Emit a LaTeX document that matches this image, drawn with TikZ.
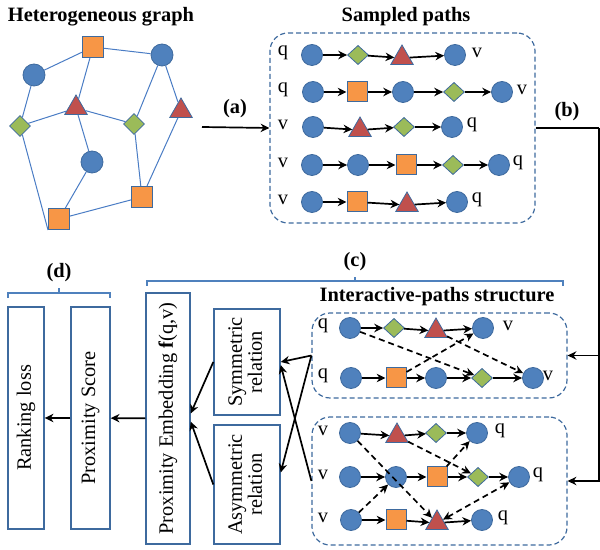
\documentclass[tikz,border=0pt]{standalone}
\usepackage{fontspec}
\setmainfont{Liberation Serif}
\usepackage{tikz}
\usetikzlibrary{shapes,arrows,positioning,calc,arrows.meta}

\definecolor{cblue}{HTML}{4F81BD}
\definecolor{cbord}{HTML}{3E6A9E}
\definecolor{corange}{HTML}{F79646}
\definecolor{cred}{HTML}{C0504D}
\definecolor{cgreen}{HTML}{9BBB59}
\definecolor{cedge}{HTML}{4A7CC4}

\tikzset{
    cir/.style={circle, fill=cblue, draw=cbord, line width=0.4pt, minimum size=10.5pt, inner sep=0pt},
    sq/.style={rectangle, fill=corange, draw=cbord, line width=0.5pt, minimum size=10pt, inner sep=0pt},
    dia/.style={diamond, fill=cgreen, draw=cbord, line width=0.4pt, minimum width=10.5pt, minimum height=9.6pt, inner sep=0pt},
    tri/.style={regular polygon, regular polygon sides=3, fill=cred, draw=cbord, line width=0.4pt, minimum size=13pt, inner sep=0pt},
    lab/.style={inner sep=0pt, font=\fontsize{10.2}{12}\selectfont},
    ttl/.style={inner sep=0pt, font=\fontsize{10.2}{12}\selectfont\bfseries},
    pa/.style={-{Stealth[length=4.4pt,width=4.2pt]}, line width=0.85pt, black},
    da/.style={-{Stealth[length=4.4pt,width=4.2pt]}, line width=0.85pt, black, dash pattern=on 3pt off 2pt},
    gedge/.style={cedge, line width=0.5pt},
    dbox/.style={rectangle, draw=cbord, dash pattern=on 2.5pt off 1.5pt, line width=0.6pt, rounded corners=9pt},
    rbox/.style={rectangle, draw=cbord, line width=0.7pt, inner sep=0pt, font=\fontsize{10.2}{12}\selectfont},
    brk/.style={cblue, line width=0.6pt}
}

\begin{document}
\begin{tikzpicture}[x=0.5pt, y=-0.5pt]
    \useasboundingbox (0,0) rectangle (600,550);

    % titles
    \node[ttl] (tg) at (101,17) {Heterogeneous graph};
    \node[ttl] (ts) at (406,17) {Sampled paths};
    \node[ttl] (ti) at (437,297) {Interactive-paths structure};

    % heterogeneous graph
    \node[sq, minimum size=10.5pt] (gsq1) at (93,47) {};
    \node[cir, minimum size=11pt] (gc1) at (34,75) {};
    \node[cir, minimum size=11pt] (gc2) at (162,55) {};
    \node[tri] (gt1) at (76,108) {};
    \node[tri] (gt2) at (181,111) {};
    \node[dia, minimum height=10.5pt] (gd1) at (20,126) {};
    \node[dia, minimum height=10.5pt] (gd2) at (134,124) {};
    \node[cir, minimum size=11pt] (gc3) at (92,162) {};
    \node[sq, minimum size=10.5pt] (gsq2) at (142,197) {};
    \node[sq, minimum size=10.5pt] (gsq3) at (59,219) {};
    \foreach \a/\b in {gsq1/gc1, gsq1/gc2, gsq1/gt1, gc1/gd1, gd1/gt1, gt1/gd2,
        gt1/gc3, gc2/gd2, gc2/gt2, gd2/gsq2, gt2/gsq2, gc3/gsq3, gsq2/gsq3}
        \draw[gedge] (\a) -- (\b);
    \draw[gedge] (gd1) -- (gsq3.south west);

    % sampled paths
    \node[dbox, minimum width=132.5pt, minimum height=95pt] (sp) at (402.5,128) {};
    \node[cir] (s11) at (312,55) {};
    \node[dia] (s12) at (358,55) {};
    \node[tri] (s13) at (402,58) {};
    \node[cir] (s14) at (455,55) {};
    \node[cir] (s21) at (313,92) {};
    \node[sq] (s22) at (357,92) {};
    \node[cir] (s23) at (403,92) {};
    \node[dia] (s24) at (454,92) {};
    \node[cir] (s25) at (502,92) {};
    \node[cir] (s31) at (313,127) {};
    \node[tri] (s32) at (360,130) {};
    \node[dia] (s33) at (404,127) {};
    \node[cir] (s34) at (452,127) {};
    \node[cir] (s41) at (312,165) {};
    \node[cir] (s42) at (358,165) {};
    \node[sq] (s43) at (406,165) {};
    \node[dia] (s44) at (453,165) {};
    \node[cir] (s45) at (499,165) {};
    \node[cir] (s51) at (312,202) {};
    \node[sq] (s52) at (357,202) {};
    \node[tri] (s53) at (407,205) {};
    \node[cir] (s54) at (457,202) {};
    \foreach \a/\b in {s11/s12, s12/s13, s13/s14, s21/s22, s22/s23, s23/s24, s24/s25,
        s31/s32, s32/s33, s33/s34, s41/s42, s42/s43, s43/s44, s44/s45,
        s51/s52, s52/s53, s53/s54}
        \draw[pa] (\a) -- (\b);
    \foreach \t/\x/\y in {q/283/53, q/283/90, v/283/125, v/283/163, v/283/200,
        v/477/53, v/522/90, q/472/125, q/518/163, q/477/200}
        \node[lab] at (\x,\y) {\t};

    % (a) and (b)
    \coordinate (astart) at (202,127);
    \draw[pa] (astart) -- (sp.west);
    \node[ttl] (la) at (235,109) {(a)};
    \coordinate (bturn) at (599,128);
    \node[ttl] (lb) at (567,112) {(b)};

    % interactive paths, upper block
    \node[dbox, minimum width=127.5pt, minimum height=42.5pt] (ip1) at (439.5,355.5) {};
    \node[cir] (a1) at (350,328) {};
    \node[dia] (a2) at (394,328) {};
    \node[tri] (a3) at (436,331) {};
    \node[cir] (a4) at (483,328) {};
    \node[cir] (b1) at (351,378) {};
    \node[sq] (b2) at (396,378) {};
    \node[cir] (b3) at (436,378) {};
    \node[dia] (b4) at (482,378) {};
    \node[cir] (b5) at (533,378) {};

    % interactive paths, lower block
    \node[dbox, minimum width=127.5pt, minimum height=64pt] (ip2) at (439.5,481) {};
    \node[cir] (c1) at (350,433) {};
    \node[tri] (c2) at (397,436) {};
    \node[dia] (c3) at (436,433) {};
    \node[cir] (c4) at (477,433) {};
    \node[cir] (d1) at (350,477) {};
    \node[cir] (d2) at (396,477) {};
    \node[sq] (d3) at (437,477) {};
    \node[dia] (d4) at (478,477) {};
    \node[cir] (d5) at (519,477) {};
    \node[cir] (e1) at (351,520) {};
    \node[sq] (e2) at (396,520) {};
    \node[tri] (e3) at (437,523) {};
    \node[cir] (e4) at (482,520) {};

    \foreach \a/\b in {a1/a2, a2/a3, a3/a4, b1/b2, b2/b3, b3/b4, b4/b5,
        c1/c2, c2/c3, c3/c4, d1/d2, d2/d3, d3/d4, d4/d5, e1/e2, e2/e3, e3/e4}
        \draw[pa] (\a) -- (\b);
    \foreach \a/\b in {a1/b4, a3/b5, b2/a4, c1/e3, c2/d4, d3/c4, e1/d2}
        \draw[da] (\a) -- (\b);
    \draw[da, {Stealth[length=4.4pt,width=4.2pt]}-{Stealth[length=4.4pt,width=4.2pt]}] (e3) -- (d5);
    \foreach \t/\x/\y in {q/323/326, v/508/326, q/323/376, v/548/376,
        v/323/431, q/500/431, v/323/475, q/538/475, v/323/518, q/503/518}
        \node[lab] at (\x,\y) {\t};

    % (b) connector
    \draw[line width=0.85pt] (sp.east) -- (bturn);
    \draw[pa] (bturn) |- (ip1.east);
    \draw[pa] (bturn) |- (ip2.east);

    % left boxes
    \node[rbox, minimum width=18pt, minimum height=111pt] (rank) at (26,418) {\rotatebox{90}{Ranking loss}};
    \node[rbox, minimum width=19.5pt, minimum height=111pt] (score) at (90.5,418) {\rotatebox{90}{Proximity Score}};
    \node[rbox, minimum width=22pt, minimum height=125.5pt] (emb) at (168,418.5) {\rotatebox{90}{Proximity Embedding \textbf{f}(q,v)}};
    \node[rbox, minimum width=33pt, minimum height=53pt] (sym) at (247,362) {\rotatebox{90}{\begin{tabular}{@{}c@{}}Symmetric\\[-2pt]relation\end{tabular}}};
    \node[rbox, minimum width=33pt, minimum height=59.5pt] (asym) at (247,484.5) {\rotatebox{90}{\begin{tabular}{@{}c@{}}Asymmetric\\[-2pt]relation\end{tabular}}};

    \draw[pa] (emb) -- (score);
    \draw[pa] (score) -- (rank);
    \draw[pa] (sym.west) -- ([yshift=2.5pt]emb.east);
    \draw[pa] (asym.west) -- ([yshift=-1.5pt]emb.east);
    \draw[pa] (ip1.west) -- (sym.east);
    \draw[pa] (ip1.west) -- ([yshift=6pt]asym.east);
    \draw[pa] (ip2.west) -- ([yshift=-1.5pt]sym.east);

    % brackets
    \draw[brk] (147,286) -- (147,281) -- (563,281) -- (563,286);
    \draw[brk] (355,281) -- (355,277);
    \node[ttl] (lc) at (355,262) {(c)};
    \draw[brk] (8,298) -- (8,293) -- (110,293) -- (110,298);
    \draw[brk] (59,293) -- (59,288);
    \node[ttl] (ld) at (59,273) {(d)};
\end{tikzpicture}
\end{document}
